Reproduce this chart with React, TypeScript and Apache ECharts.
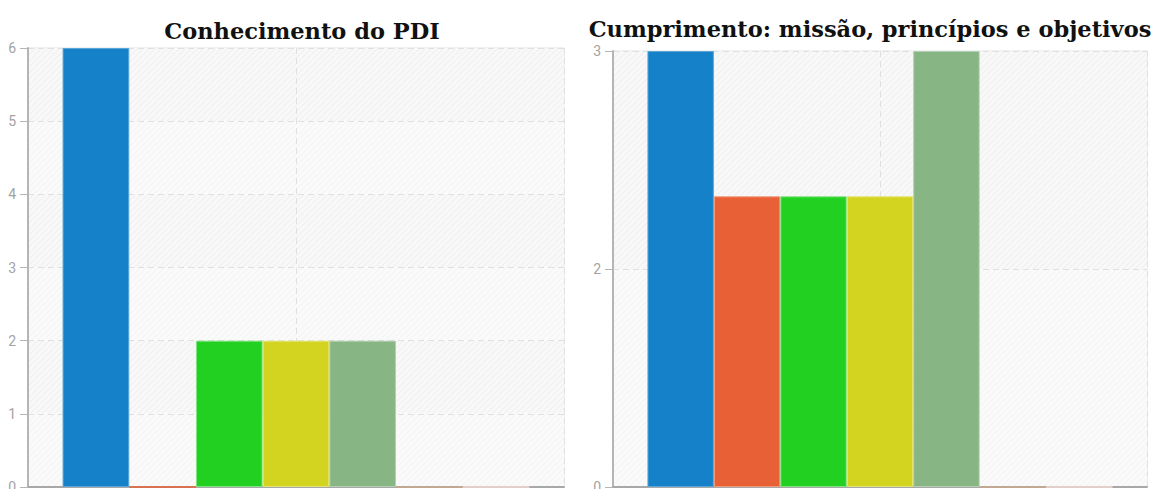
import React, { useEffect, useRef } from "react";
import * as echarts from "echarts";

const titles = ["Conhecimento do PDI", "Cumprimento: missão, princípios e objetivos"];
const seriesNames = ["Opção 1", "Opção 2", "Opção 3", "Opção 4", "Opção 5", "Opção 6", "Opção 7"];
const seriesColors = ["#1581c8", "#e86035", "#22d022", "#d2d41f", "#88b584", "#c9a88a", "#f6dcd3"];
const borderColors = ["#5aa6d8", "#f09a7c", "#7fe37f", "#e3e574", "#b3d0b0", "#d9bfa8", "#f8e6e0"];
const leftValues = [6, 0, 2, 2, 2, 0, 0];
const rightValues = [3, 2, 2, 2, 3, 0, 0];
const leftMax = 6;
const leftInterval = 1;
const rightMax = 3;
const rightInterval = 1.5;

function makeHatch(bg: string, line: string) {
  const c = document.createElement("canvas");
  c.width = 6;
  c.height = 6;
  const ctx = c.getContext("2d")!;
  ctx.fillStyle = bg;
  ctx.fillRect(0, 0, 6, 6);
  ctx.strokeStyle = line;
  ctx.lineWidth = 1;
  ctx.beginPath();
  ctx.moveTo(-1, 7);
  ctx.lineTo(7, -1);
  ctx.moveTo(-4, 4);
  ctx.lineTo(4, -4);
  ctx.moveTo(2, 10);
  ctx.lineTo(10, 2);
  ctx.stroke();
  return { image: c, repeat: "repeat", imageWidth: 6, imageHeight: 6 } as any;
}

export default function App() {
  const ref = useRef<HTMLDivElement>(null);
  useEffect(() => {
    if (!ref.current) return;
    const chart = echarts.init(ref.current, undefined, { renderer: "svg" });
    const hatchStrong = makeHatch("#f8f8f8", "#ededed");
    const hatchLight = makeHatch("#fafafa", "#f3f3f3");
    const grids = [
      { left: 28, top: 48, right: 593, bottom: 2 },
      { left: 613, top: 51, right: 10, bottom: 2 },
    ];
    const labelStyle = { color: "#a3a3a3", fontSize: 14, fontFamily: "Roboto", margin: 12 };
    const yAxisBase = (max: number, interval: number) => ({
      type: "value",
      min: 0,
      max,
      interval,
      axisLine: { show: true, lineStyle: { color: "#b5b5b5", width: 2 } },
      axisTick: { show: true, length: 8, lineStyle: { color: "#b5b5b5", width: 1 } },
      axisLabel: { ...labelStyle, formatter: (v: number) => String(Math.round(v)) },
      splitLine: { show: true, lineStyle: { color: "#e0e0e0", type: [6, 4], width: 1 } },
      splitArea: { show: true, areaStyle: { color: [hatchLight, hatchStrong] } },
    });
    const mkSeries = (values: number[], gi: number) =>
      values.map((v, i) => ({
        type: "bar",
        name: seriesNames[i],
        xAxisIndex: gi * 2,
        yAxisIndex: gi,
        data: [v],
        barGap: "0%",
        barCategoryGap: "12.9%",
        itemStyle: {
          color: seriesColors[i],
          borderColor: v === 0 ? seriesColors[i] : borderColors[i],
          borderWidth: v === 0 ? 1.5 : 1,
        },
      }));
    const titleFont = "bold 22.5px 'DejaVu Serif', serif";
    chart.setOption({
      animation: false,
      graphic: [
        {
          type: "text",
          x: 302,
          y: 31,
          style: { text: titles[0], font: titleFont, fill: "#111", textAlign: "center", textVerticalAlign: "middle" },
        },
        {
          type: "text",
          x: 870,
          y: 29,
          style: { text: titles[1], font: titleFont, fill: "#111", textAlign: "center", textVerticalAlign: "middle" },
        },
      ],
      grid: grids.map((g) => ({
        ...g,
        containLabel: false,
        outerBoundsMode: "none",
        show: true,
        borderColor: "#e2e2e2",
        borderWidth: 1,
        backgroundColor: "transparent",
      })),
      xAxis: [0, 1].flatMap((gi) => [
        {
          type: "category",
          gridIndex: gi,
          data: [""],
          axisLine: { show: true, lineStyle: { color: "#a8a8a8", width: 2 } },
          axisTick: { show: false },
          axisLabel: { show: false },
          splitLine: { show: false },
        },
        {
          type: "category",
          gridIndex: gi,
          data: ["", ""],
          position: "top",
          axisLine: { show: false },
          axisTick: { show: false },
          axisLabel: { show: false },
          splitLine: { show: true, lineStyle: { color: "#e0e0e0", type: [6, 4] } },
        },
      ]),
      yAxis: [
        { ...yAxisBase(leftMax, leftInterval), gridIndex: 0 },
        { ...yAxisBase(rightMax, rightInterval), gridIndex: 1 },
      ],
      series: [...mkSeries(leftValues, 0), ...mkSeries(rightValues, 1)],
    });
    return () => chart.dispose();
  }, []);
  return (
    <div
      ref={ref}
      style={{ position: "absolute", left: 0, top: 0, width: 1157, height: 489 }}
    />
  );
}
